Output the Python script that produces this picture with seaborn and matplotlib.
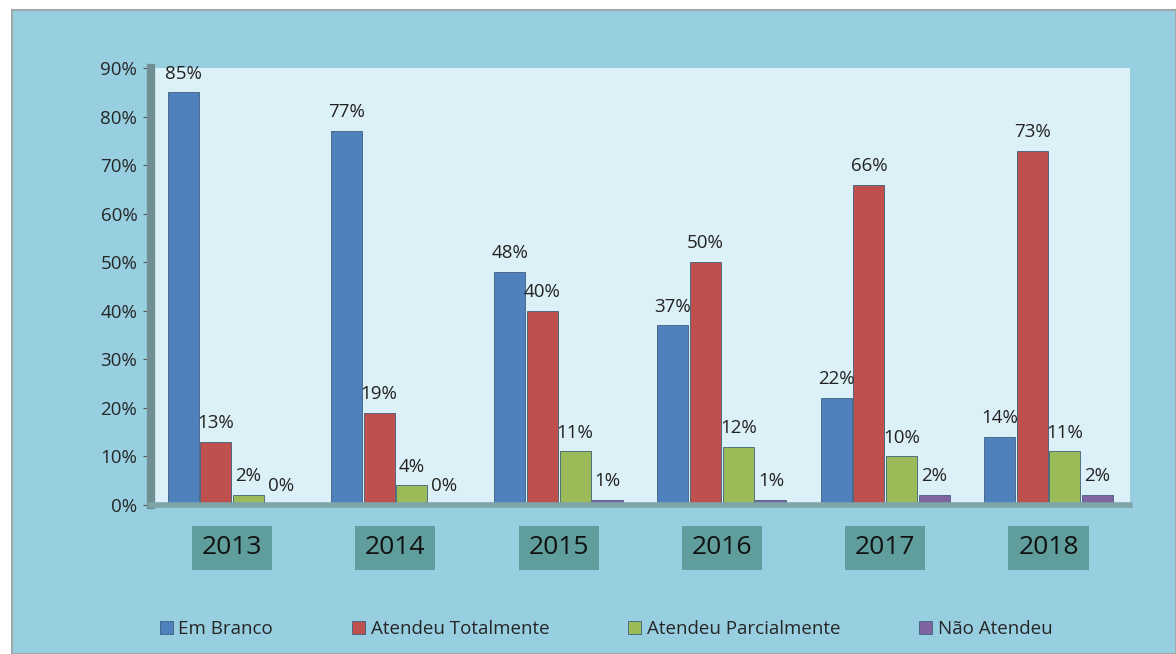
import numpy as np
import pandas as pd
import matplotlib.pyplot as plt
import seaborn as sns
from matplotlib.patches import Rectangle
from matplotlib.ticker import PercentFormatter

years = ["2013", "2014", "2015", "2016", "2017", "2018"]
series = ["Em Branco", "Atendeu Totalmente", "Atendeu Parcialmente", "Não Atendeu"]
em_branco = [85, 77, 48, 37, 22, 14]
atendeu_total = [13, 19, 40, 50, 66, 73]
atendeu_parcial = [2, 4, 11, 12, 10, 11]
nao_atendeu = [0, 0, 1, 1, 2, 2]
colors = ["#4f81bd", "#c0504d", "#9bbb59", "#8064a2"]

df = pd.DataFrame({
    "Ano": years * 4,
    "Serie": np.repeat(series, len(years)),
    "Valor": em_branco + atendeu_total + atendeu_parcial + nao_atendeu,
})

sns.set_style("white")
plt.rcParams['font.family'] = ['Open Sans', 'DejaVu Sans']

fig = plt.figure(figsize=(11.76, 6.54), dpi=100)
fig.patch.set_facecolor("white")
bg = Rectangle((12 / 1176, 0), 1 - 12 / 1176, 1 - 10 / 654,
               transform=fig.transFigure, facecolor="#98cfe0",
               edgecolor="#a0a8ac", linewidth=1.5, zorder=-10)
fig.add_artist(bg)

ax = fig.add_axes([0.128, 0.228, 0.833, 0.668])
ax.set_zorder(1)
ax.set_facecolor("#dcf0f7")

sns.barplot(data=df, x="Ano", y="Valor", hue="Serie", hue_order=series,
            palette=colors, saturation=1, width=0.8, gap=0.05,
            edgecolor="#3d5f7a", linewidth=0.6, ax=ax, legend=True)

for cont in ax.containers:
    for bar in cont:
        h = bar.get_height()
        ax.text(bar.get_x() + bar.get_width() / 2, h + 2.0, f"{h:.0f}%",
                ha="center", va="bottom", fontsize=13.5, color="#222222")

ax.set_ylim(0, 90)
ax.set_yticks(range(0, 91, 10))
ax.yaxis.set_major_formatter(PercentFormatter(decimals=0))
ax.tick_params(axis="y", labelsize=13.5, length=6, color="#555555", left=True)
ax.tick_params(axis="x", length=0, pad=22)
ax.set_xlabel("")
ax.set_ylabel("")
for lbl in ax.get_xticklabels():
    lbl.set_fontsize(19)
    lbl.set_color("#111111")
    lbl.set_bbox(dict(facecolor="#5f9e9c", edgecolor="none", pad=7))
for s in ["top", "right"]:
    ax.spines[s].set_visible(False)
ax.spines["left"].set_color("#6f8f95")
ax.spines["left"].set_linewidth(6)
ax.spines["bottom"].set_color("#7ea5aa")
ax.spines["bottom"].set_linewidth(4)

ax.legend(loc="upper center", bbox_to_anchor=(0.465, -0.225), ncol=4,
          frameon=False, fontsize=13.5, handlelength=0.7, handleheight=0.7,
          handletextpad=0.3, columnspacing=4.2)

fig.savefig("out.png", dpi=100, facecolor=fig.get_facecolor())
